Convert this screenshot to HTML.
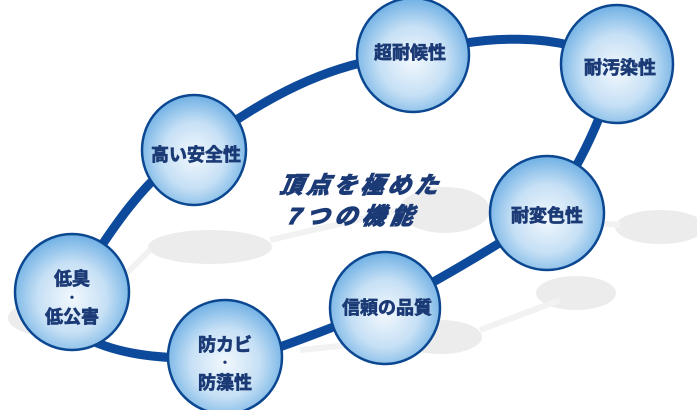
<!DOCTYPE html>
<html><head><meta charset="utf-8"><style>
html,body{margin:0;padding:0;background:#fff;width:697px;height:410px;overflow:hidden}
svg text{font-family:"Liberation Sans","Noto Sans CJK JP",sans-serif;font-weight:bold;fill:#1b3a76;stroke:#1b3a76}
</style></head><body>
<svg width="697" height="410" viewBox="0 0 697 410" xmlns="http://www.w3.org/2000/svg">
<defs>
<radialGradient id="g" cx="50%" cy="55%" r="55%">
<stop offset="0" stop-color="#f2f8fd"/><stop offset="0.55" stop-color="#c6e0f5"/><stop offset="1" stop-color="#6fb0e4"/>
</radialGradient>
</defs>
<g fill="#ececec">
<ellipse cx="210" cy="247" rx="62" ry="17"/>
<ellipse cx="445" cy="210" rx="45" ry="23"/>
<ellipse cx="660" cy="227" rx="45" ry="17"/>
<ellipse cx="576" cy="293" rx="40" ry="17"/>
<ellipse cx="50" cy="318" rx="42" ry="18"/>
<ellipse cx="441" cy="337" rx="41" ry="17"/>
</g>
<g stroke="#f2f2f2" stroke-width="6" fill="none">
<path d="M90 310 L150 250 M270 240 L400 210 M490 215 L620 225 M560 300 L480 330 M300 350 L400 340"/>
</g>
<path d="M72 292 C110 230 150 170 194 150 C260 100 330 60 413 55 C480 35 560 30 617 64 C600 130 570 180 547 213 C490 250 430 285 385 308 C320 330 260 360 225 358 C160 360 110 355 72 330"
 fill="none" stroke="#0e4a9b" stroke-width="9"/>
<g fill="url(#g)" stroke="#0c4791" stroke-width="2.5">
<ellipse cx="413" cy="55" rx="56" ry="57"/>
<ellipse cx="617" cy="64" rx="56" ry="59"/>
<ellipse cx="194" cy="150" rx="52" ry="55"/>
<ellipse cx="547" cy="213" rx="57" ry="57"/>
<ellipse cx="385" cy="308" rx="55" ry="56"/>
<ellipse cx="72" cy="292" rx="57" ry="58"/>
<ellipse cx="225" cy="357" rx="57" ry="57"/>
</g>
<g font-size="18" text-anchor="middle" stroke-width="0.7">
<text x="410" y="59">超耐候性</text>
<text x="620" y="74">耐汚染性</text>
<text x="196" y="161">高い安全性</text>
<text x="547" y="222">耐変色性</text>
<text x="387" y="314">信頼の品質</text>
<text x="72" y="285">低臭</text>
<text x="72" y="301" font-size="10">・</text>
<text x="72" y="323">低公害</text>
<text x="225" y="351">防カビ</text>
<text x="225" y="366" font-size="10">・</text>
<text x="225" y="389">防藻性</text>
</g>
<g font-size="23" font-style="italic" transform="skewX(-10)" stroke-width="1.3">
<text x="313" y="193" letter-spacing="4">頂点を極めた</text>
<text x="327" y="224" letter-spacing="5">7つの機能</text>
</g>
</svg>
</body></html>
